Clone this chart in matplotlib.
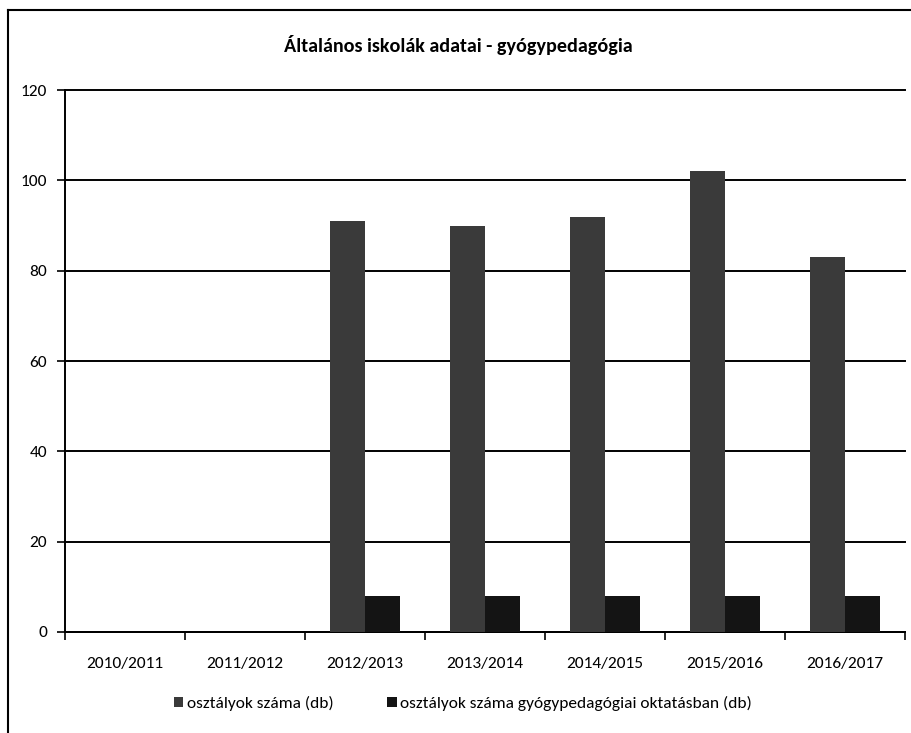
import numpy as np
import matplotlib.pyplot as plt
from matplotlib.lines import Line2D

years = ['2010/2011', '2011/2012', '2012/2013', '2013/2014',
         '2014/2015', '2015/2016', '2016/2017']
osztalyok = [0, 0, 91, 90, 92, 102, 83]
gyogyped = [0, 0, 8, 8, 8, 8, 8]
yticks = [0, 20, 40, 60, 80, 100, 120]

plt.rcParams['font.family'] = ['Carlito', 'DejaVu Sans']

fig = plt.figure(figsize=(9.12, 7.33), dpi=100)
ax = fig.add_axes([0.0713, 0.1378, 0.9207, 0.7392])

x = np.arange(len(years))
w = 0.29
ax.bar(x - w/2, osztalyok, w, color='#3a3a3a', label='osztályok száma (db)', zorder=3)
ax.bar(x + w/2, gyogyped, w, color='#141414',
       label='osztályok száma gyógypedagógiai oktatásban (db)', zorder=3)

ax.set_xlim(-0.5, len(years) - 0.5)
ax.set_ylim(0, 120)
ax.set_yticks(yticks)
ax.set_yticklabels([str(v) for v in yticks], fontsize=12.5)
ax.yaxis.grid(True, color='black', linewidth=1.4, zorder=0)
for gl in ax.get_ygridlines():
    gl.set_clip_on(False)
ax.set_xticks(x)
ax.set_xticklabels(years, fontsize=12.5)
ax.set_xticks(np.arange(len(years) + 1) - 0.5, minor=True)
ax.tick_params(axis='x', which='major', length=0, pad=18)
ax.tick_params(axis='x', which='minor', length=6, width=1.2, direction='out')
ax.tick_params(axis='y', length=6, width=1.2, pad=7)

for s in ['top', 'right']:
    ax.spines[s].set_visible(False)
ax.spines['left'].set_linewidth(1.4)
ax.spines['bottom'].set_linewidth(1.4)

fig.text(0.502, 0.938, 'Általános iskolák adatai - gyógypedagógia',
         ha='center', va='center', fontsize=14.5, fontweight='bold')

ax.legend(loc='center', bbox_to_anchor=(0.474, -0.132), ncol=2,
          frameon=False, fontsize=12.5, handlelength=0.55, handleheight=0.55,
          handletextpad=0.2, columnspacing=3.1)

# outer chart frame (left and top edges visible in scan)
fig.add_artist(Line2D([0.009, 0.009], [0.0, 0.986], color='black', linewidth=1.5,
                      transform=fig.transFigure))
fig.add_artist(Line2D([0.009, 1.0], [0.986, 0.986], color='black', linewidth=1.5,
                      transform=fig.transFigure))

fig.savefig('out.png', dpi=100)
